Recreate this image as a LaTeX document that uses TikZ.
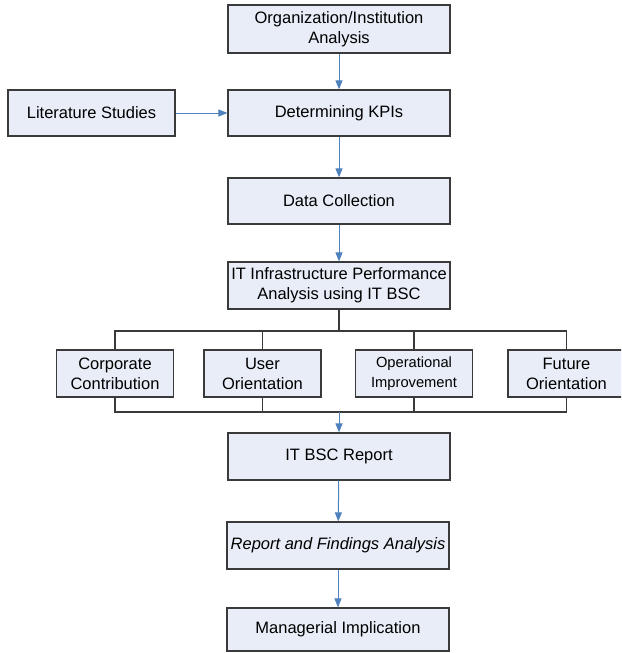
\documentclass[tikz,border=0pt]{standalone}
\usepackage{fontspec}
\setmainfont{Liberation Sans}
\usetikzlibrary{arrows.meta}
\definecolor{boxfill}{HTML}{E8EDF7}
\definecolor{boxline}{HTML}{3A3A3A}
\definecolor{arrowblue}{HTML}{4F81BD}
\tikzset{
  box/.style={draw=boxline, fill=boxfill, line width=1.2pt, align=center,
    minimum width=222pt, minimum height=46pt, inner sep=0pt,
    font=\fontsize{16.5}{20}\selectfont},
  subbox/.style={box, minimum width=117pt, minimum height=47pt},
  flow/.style={draw=arrowblue, line width=1pt, -{Triangle[length=9pt,width=7pt]}},
  bus/.style={draw=boxline, line width=1.1pt}
}
\begin{document}
\begin{tikzpicture}[x=1pt,y=-1pt]
\clip (0,0) rectangle (621,653);
\useasboundingbox (0,0) rectangle (621,653);
\fill[white] (0,0) rectangle (621,653);
\node[box, minimum height=48pt] (org) at (339,29) {Organization/Institution\\Analysis};
\node[box, minimum width=167pt] (lit) at (91.5,113) {Literature Studies};
\node[box] (kpi) at (339,113) {Determining KPIs};
\node[box] (data) at (339,201) {Data Collection};
\node[box, minimum height=47pt] (itp) at (339,285.5) {IT Infrastructure Performance\\Analysis using IT BSC};
\node[subbox] (cc) at (115,373.5) {Corporate\\Contribution};
\node[subbox] (uo) at (262.5,373.5) {User\\Orientation};
\node[subbox, font=\fontsize{14.7}{20}\selectfont] (oi) at (414,373.5) {Operational\\Improvement};
\node[subbox] (fo) at (566.5,373.5) {Future\\Orientation};
\node[box, minimum height=47pt] (rep) at (339,456.5) {IT BSC Report};
\node[box, minimum height=47pt, font=\fontsize{16.5}{20}\selectfont\itshape] (find) at (338,545.5) {Report and Findings Analysis};
\node[box, minimum height=43pt] (man) at (338,629.5) {Managerial Implication};

\coordinate (bt) at (339,331);
\coordinate (bb) at (339,412);

\draw[flow] (org) -- (kpi);
\draw[flow] (lit) -- (kpi);
\draw[flow] (kpi) -- (data);
\draw[flow] (data) -- (itp);

\draw[bus] (itp.south) -- (bt);
\draw[bus] (cc.north) |- (bt) -| (fo.north);
\draw[bus] (uo.north) -- (uo.north |- bt);
\draw[bus] (oi.north) -- (oi.north |- bt);
\draw[bus] (cc.south) |- (bb) -| (fo.south);
\draw[bus] (uo.south) -- (uo.south |- bb);
\draw[bus] (oi.south) -- (oi.south |- bb);

\draw[flow] (bb) -- (rep.north);
\draw[flow] (rep) -- (find);
\draw[flow] (find) -- (man);
\end{tikzpicture}
\end{document}
